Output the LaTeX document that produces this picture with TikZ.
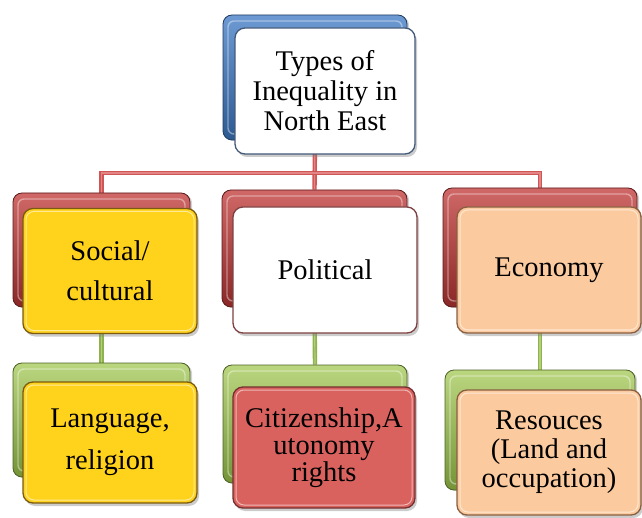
\documentclass[tikz,border=0pt]{standalone}
\usepackage{fontspec}
\setmainfont{Liberation Serif}
\usetikzlibrary{shadows}

% palette
\definecolor{blueT}{HTML}{6E9AD4}
\definecolor{blueB}{HTML}{2E5A92}
\definecolor{redT}{HTML}{CF6866}
\definecolor{redB}{HTML}{8A2828}
\definecolor{greenT}{HTML}{BAD67F}
\definecolor{greenB}{HTML}{759438}
\definecolor{goldFill}{HTML}{FFD21C}
\definecolor{goldLine}{HTML}{7A5A10}
\definecolor{peachFill}{HTML}{FBCB9F}
\definecolor{peachLine}{HTML}{8A5E40}
\definecolor{roseFill}{HTML}{D9625F}
\definecolor{roseLine}{HTML}{743030}
\definecolor{slateLine}{HTML}{435A7A}
\definecolor{wineLine}{HTML}{7E4040}
\definecolor{redWire}{HTML}{D05656}
\definecolor{redWireIn}{HTML}{E38585}
\definecolor{greenWire}{HTML}{8FB24E}
\definecolor{greenWireIn}{HTML}{B2CF7C}

\pgfdeclarelayer{wires}
\pgfsetlayers{wires,main}

\tikzset{
  x=1pt, y=-1pt,
  backbox/.style 2 args={
    rounded corners=9pt, inner sep=0pt, line width=0.8pt,
    top color=#1, bottom color=#2, draw=#2!65!black,
    drop shadow={opacity=0.35, shadow xshift=2pt, shadow yshift=-1pt},
    path picture={
      \draw[white, opacity=0.4, line width=1.4pt, rounded corners=6pt]
        ([xshift=5pt, yshift=-6pt]path picture bounding box.north west) rectangle
        ([xshift=-5pt, yshift=6pt]path picture bounding box.south east);
    }},
  frontbox/.style 2 args={
    rounded corners=10pt, inner sep=0pt, line width=1.3pt,
    fill=#1, draw=#2, align=center,
    font=\rmfamily\fontsize{28.5}{30}\selectfont,
    drop shadow={opacity=0.4, shadow xshift=2pt, shadow yshift=-3pt},
    path picture={
      \draw[white, opacity=0.55, line width=1pt, rounded corners=8pt]
        ([xshift=3pt, yshift=-3pt]path picture bounding box.north west) rectangle
        ([xshift=-3pt, yshift=3pt]path picture bounding box.south east);
    }},
  redlink/.style={draw=redWire, line width=1.6pt, double=redWireIn, double distance=1.2pt},
  greenlink/.style={draw=greenWire, line width=1.6pt, double=greenWireIn, double distance=1.2pt},
}

\begin{document}
\begin{tikzpicture}
\useasboundingbox (0,0) rectangle (642,518);

% back plates
\node[backbox={blueT}{blueB},  minimum width=184pt, minimum height=125pt] (tb) at (315,77.5) {};
\node[backbox={redT}{redB},    minimum width=177pt, minimum height=114pt] (sb) at (101.5,250) {};
\node[backbox={redT}{redB},    minimum width=185pt, minimum height=117pt] (pb) at (314.5,248.5) {};
\node[backbox={redT}{redB},    minimum width=194pt, minimum height=119pt] (eb) at (540,247.5) {};
\node[backbox={greenT}{greenB},minimum width=177pt, minimum height=114pt] (lb) at (101.5,420) {};
\node[backbox={greenT}{greenB},minimum width=184pt, minimum height=118pt] (cb) at (315,424) {};
\node[backbox={greenT}{greenB},minimum width=190pt, minimum height=120pt] (rb) at (540,430) {};

% connectors, kept underneath the plates
\coordinate (bus) at (314.5,173);
\begin{pgfonlayer}{wires}
\draw[redlink] (tb.south) -- (pb.north);
\draw[redlink] (sb.north) |- (bus) -| (eb.north);
\draw[greenlink] (sb.south) -- (lb.north);
\draw[greenlink] (pb.south) -- (cb.north);
\draw[greenlink] (eb.south) -- (rb.north);
\end{pgfonlayer}

% front cards
\node[frontbox={white}{slateLine}, minimum width=180pt, minimum height=126pt] (top) at (325,91)
  {Types of\\Inequality in\\North East};
\node[frontbox={goldFill}{goldLine}, minimum width=174pt, minimum height=125pt,
      font=\rmfamily\fontsize{28.5}{40}\selectfont] (social) at (110,271)
  {Social/\\cultural};
\node[frontbox={white}{wineLine}, minimum width=184pt, minimum height=126pt] (political) at (325,270)
  {Political};
\node[frontbox={peachFill}{peachLine}, minimum width=184pt, minimum height=126pt] (economy) at (549,270)
  {Economy};
\node[frontbox={goldFill}{goldLine}, minimum width=174pt, minimum height=121pt,
      font=\rmfamily\fontsize{28.5}{42}\selectfont] (language) at (110,442.5)
  {Language,\\religion};
\node[frontbox={roseFill}{roseLine}, minimum width=182pt, minimum height=121pt,
      font=\rmfamily\fontsize{28.5}{27}\selectfont] (citizen) at (324,447.5)
  {Citizenship,A\\utonomy\\rights};
\node[frontbox={peachFill}{peachLine}, minimum width=184pt, minimum height=125pt,
      font=\rmfamily\fontsize{28.5}{29}\selectfont] (resources) at (549,452.5)
  {Resouces\\(Land and\\occupation)};
\end{tikzpicture}
\end{document}
